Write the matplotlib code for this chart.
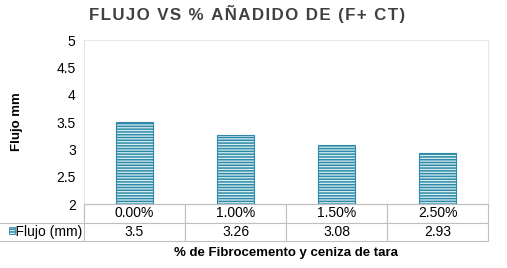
import numpy as np
import matplotlib.pyplot as plt
from matplotlib.patches import Rectangle

plt.rcParams['font.family'] = ['Liberation Sans', 'DejaVu Sans']
plt.rcParams['hatch.linewidth'] = 1.1

categories = ['0.00%', '1.00%', '1.50%', '2.50%']
flujo = [3.5, 3.26, 3.08, 2.93]
series_name = 'Flujo (mm)'
yticks = [2, 2.5, 3, 3.5, 4, 4.5, 5]

bar_edge = '#2e8aa6'
bar_face = '#d9eef5'
grid_col = '#bfbfbf'

fig = plt.figure(figsize=(5.07, 2.68), dpi=100)
ax = fig.add_axes([84 / 507, 1 - 204 / 268, 404 / 507, 164 / 268])

x = np.arange(len(categories))
ax.bar(x, np.array(flujo) - 2, bottom=2, width=0.37, color=bar_face,
       edgecolor=bar_edge, hatch='------', linewidth=0.8)

ax.set_xlim(-0.5, len(categories) - 0.5)
ax.set_ylim(2, 5)
ax.set_yticks(yticks)
ax.set_yticklabels([f'{t:g}' for t in yticks], fontsize=10)
ax.tick_params(axis='y', length=0, pad=6)
ax.set_xticks([])
for s in ['left', 'top', 'right']:
    ax.spines[s].set_color('#e3e7ec')
ax.spines['bottom'].set_color(grid_col)

ax.set_ylabel('Flujo mm', fontsize=9.5, fontweight='bold', labelpad=24)

# data table below the axes
left_ext = 79 / 404
tbl = ax.table(cellText=[categories, [f'{v:g}' for v in flujo]],
               rowLabels=['', series_name],
               cellLoc='center', rowLoc='left',
               bbox=[0, -37 / 164, 1, 37 / 164])
tbl.auto_set_font_size(False)
for (r, c), cell in tbl.get_celld().items():
    cell.set_edgecolor(grid_col)
    cell.set_linewidth(0.8)
    cell.get_text().set_fontsize(10)
    if c == -1:
        cell.set_width(left_ext)
        if r == 0:
            cell.visible_edges = 'R'
        else:
            cell.get_text().set_text('    ' + series_name)
            cell.PAD = 0.02

# legend key in the table row label
ax.add_patch(Rectangle((-left_ext + 0.01, -30 / 164), 0.014, 7 / 164,
                       transform=ax.transAxes, clip_on=False,
                       facecolor=bar_face, edgecolor=bar_edge,
                       hatch='------', linewidth=0.6))

fig.text(286 / 507, 1 - 253 / 268, '% de Fibrocemento y ceniza de tara',
         fontsize=9.5, fontweight='bold', ha='center', va='center')

title = 'FLUJO VS % AÑADIDO DE (F+ CT)'
fig.text(247 / 507, 1 - 14 / 268, '\u200a'.join(title), fontsize=12.2,
         fontweight='bold', color='#404040', ha='center', va='center')

fig.savefig('out.png', dpi=100)
